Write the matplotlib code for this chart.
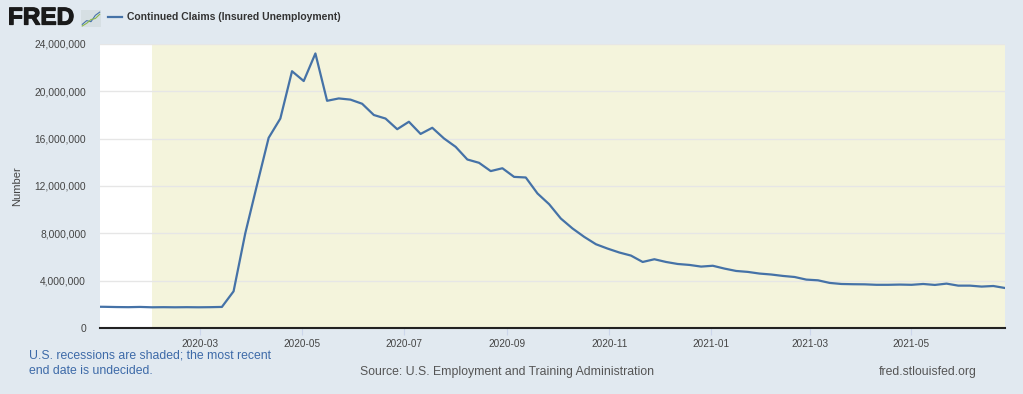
import pandas as pd
import matplotlib
matplotlib.use("Agg")
import matplotlib.pyplot as plt
import matplotlib.dates as mdates
import matplotlib.patheffects as pe
from matplotlib.ticker import FuncFormatter, MultipleLocator

plt.rcParams["font.family"] = ["Liberation Sans", "DejaVu Sans"]

# weekly continued claims, week ending Saturday (millions)
start_week = "2019-12-28"
claims_m = [
    1.80, 1.79, 1.77, 1.76, 1.78, 1.75, 1.76, 1.75, 1.76, 1.75, 1.76,   # to 2020-03-07
    1.78, 3.10, 8.00, 12.07, 16.07, 17.70, 21.70, 20.87, 23.20, 19.20,  # to 2020-05-16
    19.40, 19.30, 18.95, 18.00, 17.70, 16.80, 17.43, 16.40, 16.92, 16.02,
    15.31, 14.24, 13.96, 13.26, 13.50, 12.77, 12.72, 11.37, 10.46, 9.25,
    8.41, 7.70, 7.08, 6.71, 6.38, 6.12, 5.58, 5.81, 5.58, 5.41,
    5.33, 5.19, 5.26, 5.02, 4.82, 4.74, 4.60, 4.52, 4.40, 4.31,
    4.09, 4.03, 3.81, 3.72, 3.70, 3.69, 3.65, 3.65, 3.67, 3.65,
    3.72, 3.64, 3.75, 3.58, 3.58, 3.50, 3.55, 3.38,
]
dates = pd.date_range(start_week, periods=len(claims_m), freq="7D")
claims = [v * 1e6 for v in claims_m]

view_start, view_end = "2020-01-01", "2021-06-26"
recession_start = "2020-02-01"
tick_dates = pd.date_range("2020-03-01", "2021-05-01", freq="2MS")

bg = "#e1e9f0"
line_c = "#4572a7"

fig = plt.figure(figsize=(10.23, 3.94), dpi=100, facecolor=bg)
ax = fig.add_axes([100 / 1023, 66 / 394, 905 / 1023, 284 / 394])
ax.set_facecolor("white")

ax.axvspan(pd.Timestamp(recession_start), pd.Timestamp(view_end), color="#f4f4dc", lw=0, zorder=0)
ax.plot(dates, claims, color=line_c, lw=1.6, zorder=3)

ax.set_xlim(pd.Timestamp(view_start), pd.Timestamp(view_end))
ax.set_ylim(0, 24e6)
ax.yaxis.set_major_locator(MultipleLocator(4e6))
ax.yaxis.set_major_formatter(FuncFormatter(lambda v, p: f"{int(v):,}"))
ax.set_xticks(tick_dates)
ax.xaxis.set_major_formatter(mdates.DateFormatter("%Y-%m"))

ax.grid(axis="y", color="#e6e6e6", lw=1)
ax.set_axisbelow(True)
for s in ["top", "right", "left"]:
    ax.spines[s].set_visible(False)
ax.spines["bottom"].set_color("#222222")
ax.spines["bottom"].set_linewidth(1.5)
ax.tick_params(axis="y", length=0, labelsize=7.4, labelcolor="#444444", pad=10)
ax.tick_params(axis="x", length=5, color="#ccd6eb", labelsize=7.2, labelcolor="#444444", pad=3)
ax.set_ylabel("Number", fontsize=8, color="#444444")
ax.yaxis.set_label_coords(-78 / 905, 0.5)

# header: FRED logo + legend entry
fig.text(8 / 1023, 1 - 18 / 394, "FRED", fontsize=17.5, fontweight="bold", color="#1a1a1a",
         va="center", ha="left",
         path_effects=[pe.withStroke(linewidth=0.9, foreground="#1a1a1a")])
icon = fig.add_axes([81 / 1023, 1 - 27 / 394, 20 / 1023, 17 / 394])
icon.set_facecolor("#d6dfe3")
icon.set_xticks([])
icon.set_yticks([])
for s in icon.spines.values():
    s.set_visible(False)
icon_x = [0, 1, 2, 3, 4]
icon_a = [0.5, 1.2, 1.0, 2.2, 2.8]
icon_b = [0.2, 0.7, 1.4, 1.6, 2.4]
icon.plot(icon_x, icon_a, color="#4572a7", lw=0.8)
icon.plot(icon_x, icon_b, color="#8bb84c", lw=0.8)
icon.set_xlim(-0.3, 4.3)
icon.set_ylim(0, 3.2)

fig.lines.append(plt.Line2D([108 / 1023, 122 / 1023], [1 - 17 / 394, 1 - 17 / 394],
                            transform=fig.transFigure, color=line_c, lw=1.6))
fig.text(127 / 1023, 1 - 17 / 394, "Continued Claims (Insured Unemployment)", fontsize=7.5,
         fontweight="bold", color="#333333", va="center", ha="left")

# footer
fig.text(29 / 1023, 1 - 363 / 394, "U.S. recessions are shaded; the most recent\nend date is undecided.",
         fontsize=8.8, color="#3d6aa8", va="center", ha="left", linespacing=1.4)
fig.text(507 / 1023, 1 - 372 / 394, "Source: U.S. Employment and Training Administration",
         fontsize=8.8, color="#555555", va="center", ha="center")
fig.text(977 / 1023, 1 - 372 / 394, "fred.stlouisfed.org", fontsize=8.8, color="#555555",
         va="center", ha="right")

fig.savefig("out.png", dpi=100, facecolor=bg)
